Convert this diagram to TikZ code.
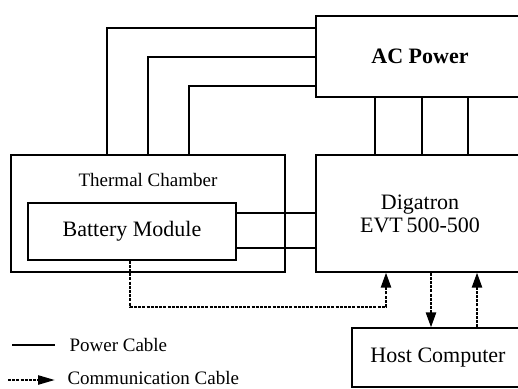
\documentclass[tikz,border=0pt]{standalone}
\usepackage{fontspec}
\setmainfont{Liberation Serif}
\usetikzlibrary{arrows.meta}
\begin{document}
\begin{tikzpicture}[x=1pt,y=-1pt,
  box/.style={draw,line width=1.2pt,inner sep=0pt,align=center},
  big/.style={font=\fontsize{22}{25}\selectfont},
  small/.style={font=\fontsize{19}{22}\selectfont},
  pw/.style={line width=1.2pt},
  dashy/.style={line width=2.4pt,dash pattern=on 3pt off 1.2pt},
  commline/.style={dashy,-{Triangle[length=15pt,width=10pt]}}]
\clip (0,0) rectangle (518,388);
\node[box,big,minimum width=208pt,minimum height=81pt] (ac) at (420,56.5) {\textbf{AC Power}};
\node[box,big,minimum width=208pt,minimum height=117pt,text depth=0pt] (dig) at (420,213.5) {Digatron\\[-2pt]EVT\,500-500};
\node[box,minimum width=274pt,minimum height=117pt] (th) at (148,213.5) {};
\node[small,anchor=center] (thl) at (148,180) {Thermal Chamber};
\node[box,big,minimum width=208pt,minimum height=57pt] (bat) at (132,231.5) {Battery Module};
\node[box,big,minimum width=172pt,minimum height=59pt] (host) at (438,357.5) {Host Computer};
% power cables thermal chamber -> AC power
\draw[pw] (107,0 |- th.north) |- (ac.west |- 0,28);
\draw[pw] (148,0 |- th.north) |- (ac.west |- 0,57);
\draw[pw] (189,0 |- th.north) |- (ac.west |- 0,86);
% AC power -> Digatron
\draw[pw] (375,0 |- ac.south) -- (375,0 |- dig.north);
\draw[pw] (422,0 |- ac.south) -- (422,0 |- dig.north);
\draw[pw] (468,0 |- ac.south) -- (468,0 |- dig.north);
% Battery -> Digatron
\draw[pw] (bat.east |- 0,213) -- (dig.west |- 0,213);
\draw[pw] (bat.east |- 0,248) -- (dig.west |- 0,248);
% communication
\coordinate (cb) at (130,307);
\draw[commline] (130,0 |- bat.south) -- (cb) -- (386,0 |- cb) -- (386,0 |- dig.south);
\draw[commline] (431,0 |- dig.south) -- (431,0 |- host.north);
\draw[commline] (477,0 |- host.north) -- (477,0 |- dig.south);
% legend
\coordinate (lp1) at (12,345);
\coordinate (lp2) at (55,345);
\draw[pw] (lp1) -- (lp2);
\node[small,anchor=base west,text depth=0pt] (lpt) at (66,351) {Power Cable};
\coordinate (lc1) at (8,380);
\coordinate (lc2) at (55,380);
\draw[dashy,-{Triangle[length=17pt,width=9pt]}] (lc1) -- (lc2);
\node[small,anchor=base west,text depth=0pt] (lct) at (64,384) {Communication Cable};
\end{tikzpicture}
\end{document}
